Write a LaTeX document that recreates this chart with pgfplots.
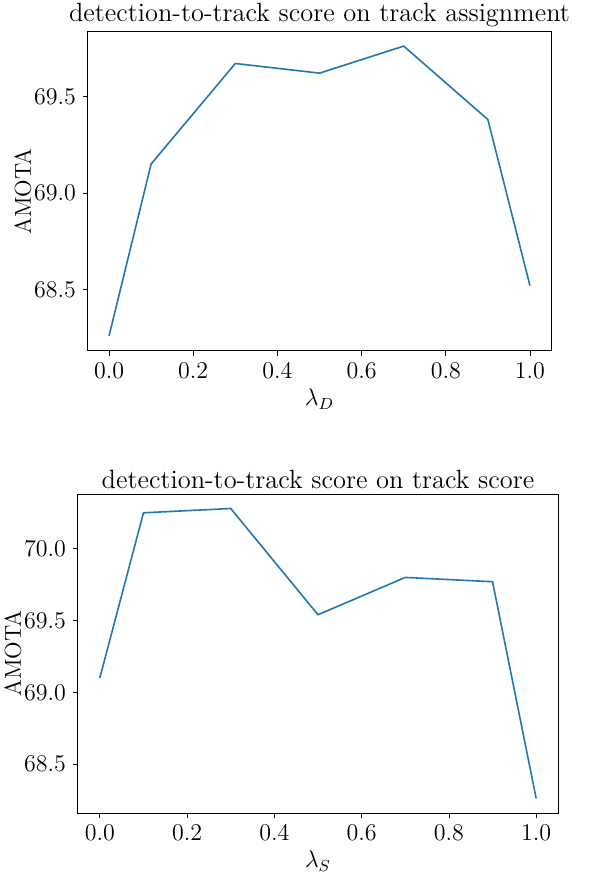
\documentclass[border=0pt]{standalone}
\usepackage{pgfplots}
\pgfplotsset{compat=1.18}
\definecolor{mplblue}{HTML}{1F77B4}
\begin{document}
\begin{tikzpicture}
\pgfplotsset{
  myax/.style={
    scale only axis,
    axis line style={line width=0.5pt},
    xmin=-0.05, xmax=1.05,
    xtick={0,0.2,0.4,0.6,0.8,1.0},
    tick align=outside,
    tick pos=left,
    major tick length=2.5pt,
    tick style={black, line width=0.4pt},
    xticklabel style={/pgf/number format/.cd,fixed,fixed zerofill,precision=1},
    yticklabel style={/pgf/number format/.cd,fixed,fixed zerofill,precision=1},
    ticklabel style={font=\fontsize{11.5}{13}\selectfont},
    label style={font=\fontsize{11.5}{13}\selectfont},
    xlabel style={yshift=1.5pt},
    ylabel style={yshift=-5.5pt},
    title style={font=\fontsize{13.2}{15}\selectfont, yshift=-7pt},
    ylabel={AMOTA},
  }
}
\begin{axis}[myax,
  at={(44pt,-16pt)}, anchor=north west,
  width=231.5pt, height=159.5pt,
  ymin=68.182, ymax=69.833,
  ytick={68.5,69.0,69.5},
  title={detection-to-track score on track assignment},
  xlabel={$\lambda_D$},
]
\addplot[mplblue, line width=0.8pt, no markers] coordinates {(0,68.26) (0.1,69.15) (0.3,69.67) (0.5,69.62) (0.7,69.76) (0.9,69.38) (1.0,68.52)};
\end{axis}
\begin{axis}[myax,
  at={(39pt,-247pt)}, anchor=north west,
  width=240pt, height=159.5pt,
  ymin=68.159, ymax=70.381,
  ytick={68.5,69.0,69.5,70.0},
  title={detection-to-track score on track score},
  xlabel={$\lambda_S$},
]
\addplot[mplblue, line width=0.8pt, no markers] coordinates {(0,69.10) (0.1,70.25) (0.3,70.28) (0.5,69.54) (0.7,69.80) (0.9,69.77) (1.0,68.26)};
\end{axis}
\pgfresetboundingbox
\path[use as bounding box] (0,0) rectangle (295.5pt,-436pt);
\end{tikzpicture}
\end{document}
